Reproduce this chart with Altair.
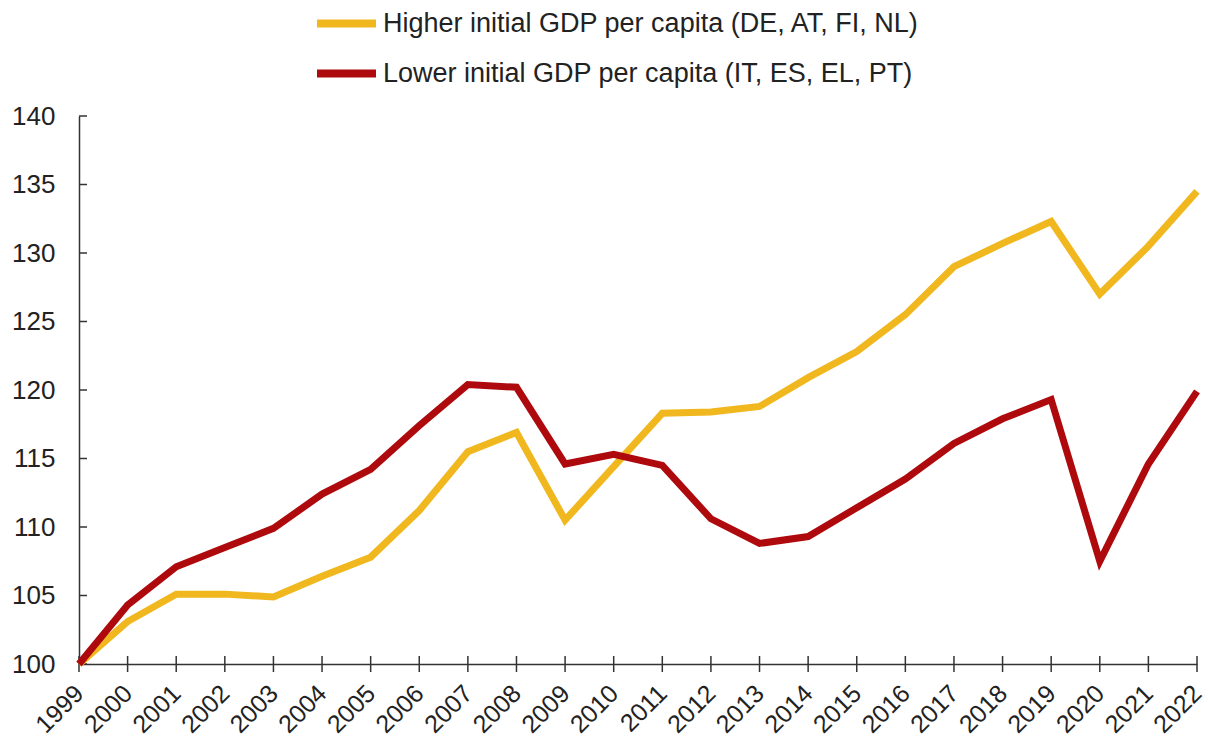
import altair as alt
import pandas as pd

years = list(range(1999, 2023))
higher = [100.0, 103.1, 105.1, 105.1, 104.9, 106.4, 107.8, 111.2, 115.5, 116.9, 110.5,
          114.4, 118.3, 118.4, 118.8, 120.9, 122.8, 125.5, 129.0, 130.7, 132.3, 127.0,
          130.5, 134.5]
lower = [100.0, 104.3, 107.1, 108.5, 109.9, 112.4, 114.2, 117.4, 120.4, 120.2, 114.6,
         115.3, 114.5, 110.6, 108.8, 109.3, 111.4, 113.5, 116.1, 117.9, 119.3, 107.5,
         114.6, 119.9]
series_names = ["Higher initial GDP per capita (DE, AT, FI, NL)",
                "Lower initial GDP per capita (IT, ES, EL, PT)"]
colors = ["#F0B81E", "#AE0A0E"]
y_ticks = [100, 105, 110, 115, 120, 125, 130, 135, 140]

rows = []
for i, y in enumerate(years):
    rows.append({"year": y, "value": higher[i], "series": series_names[0]})
    rows.append({"year": y, "value": lower[i], "series": series_names[1]})
df = pd.DataFrame(rows)

FONT = "Liberation Sans"
W, H = 1118, 548

xscale = alt.Scale(type="point", padding=0)
yscale = alt.Scale(domain=[100, 140], nice=False, zero=False)

lines = alt.Chart(df).mark_line(strokeWidth=7, strokeJoin="miter").encode(
    x=alt.X("year:O", scale=xscale, sort=years,
            axis=alt.Axis(title=None, labelAngle=-45, labelAlign="right",
                          labelBaseline="middle", labelFontSize=25, labelFont=FONT,
                          labelColor="#222222", labelPadding=25, ticks=False,
                          domainColor="#333333", domainWidth=1.5)),
    y=alt.Y("value:Q", scale=yscale,
            axis=alt.Axis(title=None, values=y_ticks, labelFontSize=26, labelFont=FONT,
                          labelColor="#222222", labelPadding=24, ticks=False, grid=False,
                          domainColor="#333333", domainWidth=1.5)),
    color=alt.Color("series:N", sort=series_names,
                    scale=alt.Scale(domain=series_names, range=colors),
                    legend=alt.Legend(title=None, orient="none", legendX=234, legendY=-126,
                                      direction="vertical", symbolType="stroke",
                                      symbolSize=3481, symbolStrokeWidth=8,
                                      labelFontSize=27, labelFont=FONT, labelColor="#222222",
                                      labelOffset=3, rowPadding=-12, labelLimit=800)),
    order=alt.Order("year:O"),
)

ytick_df = pd.DataFrame({"v": y_ticks})
yticks = alt.Chart(ytick_df).mark_rule(color="#333333", strokeWidth=1.5).encode(
    y=alt.Y("v:Q", scale=yscale), x=alt.value(0), x2=alt.value(8))

xtick_df = pd.DataFrame({"year": years})
xticks = alt.Chart(xtick_df).mark_rule(color="#333333", strokeWidth=1.5).encode(
    x=alt.X("year:O", scale=xscale, sort=years), y=alt.value(H - 8), y2=alt.value(H + 8))

chart = alt.layer(yticks, xticks, lines).properties(
    width=W, height=H,
    autosize=alt.AutoSizeParams(type="none"),
    padding={"left": 79, "top": 116, "right": 11, "bottom": 78},
    background="white",
).configure_view(stroke="transparent", strokeWidth=0)

chart.save("out.html", embed_options={"renderer": "svg", "actions": False})
